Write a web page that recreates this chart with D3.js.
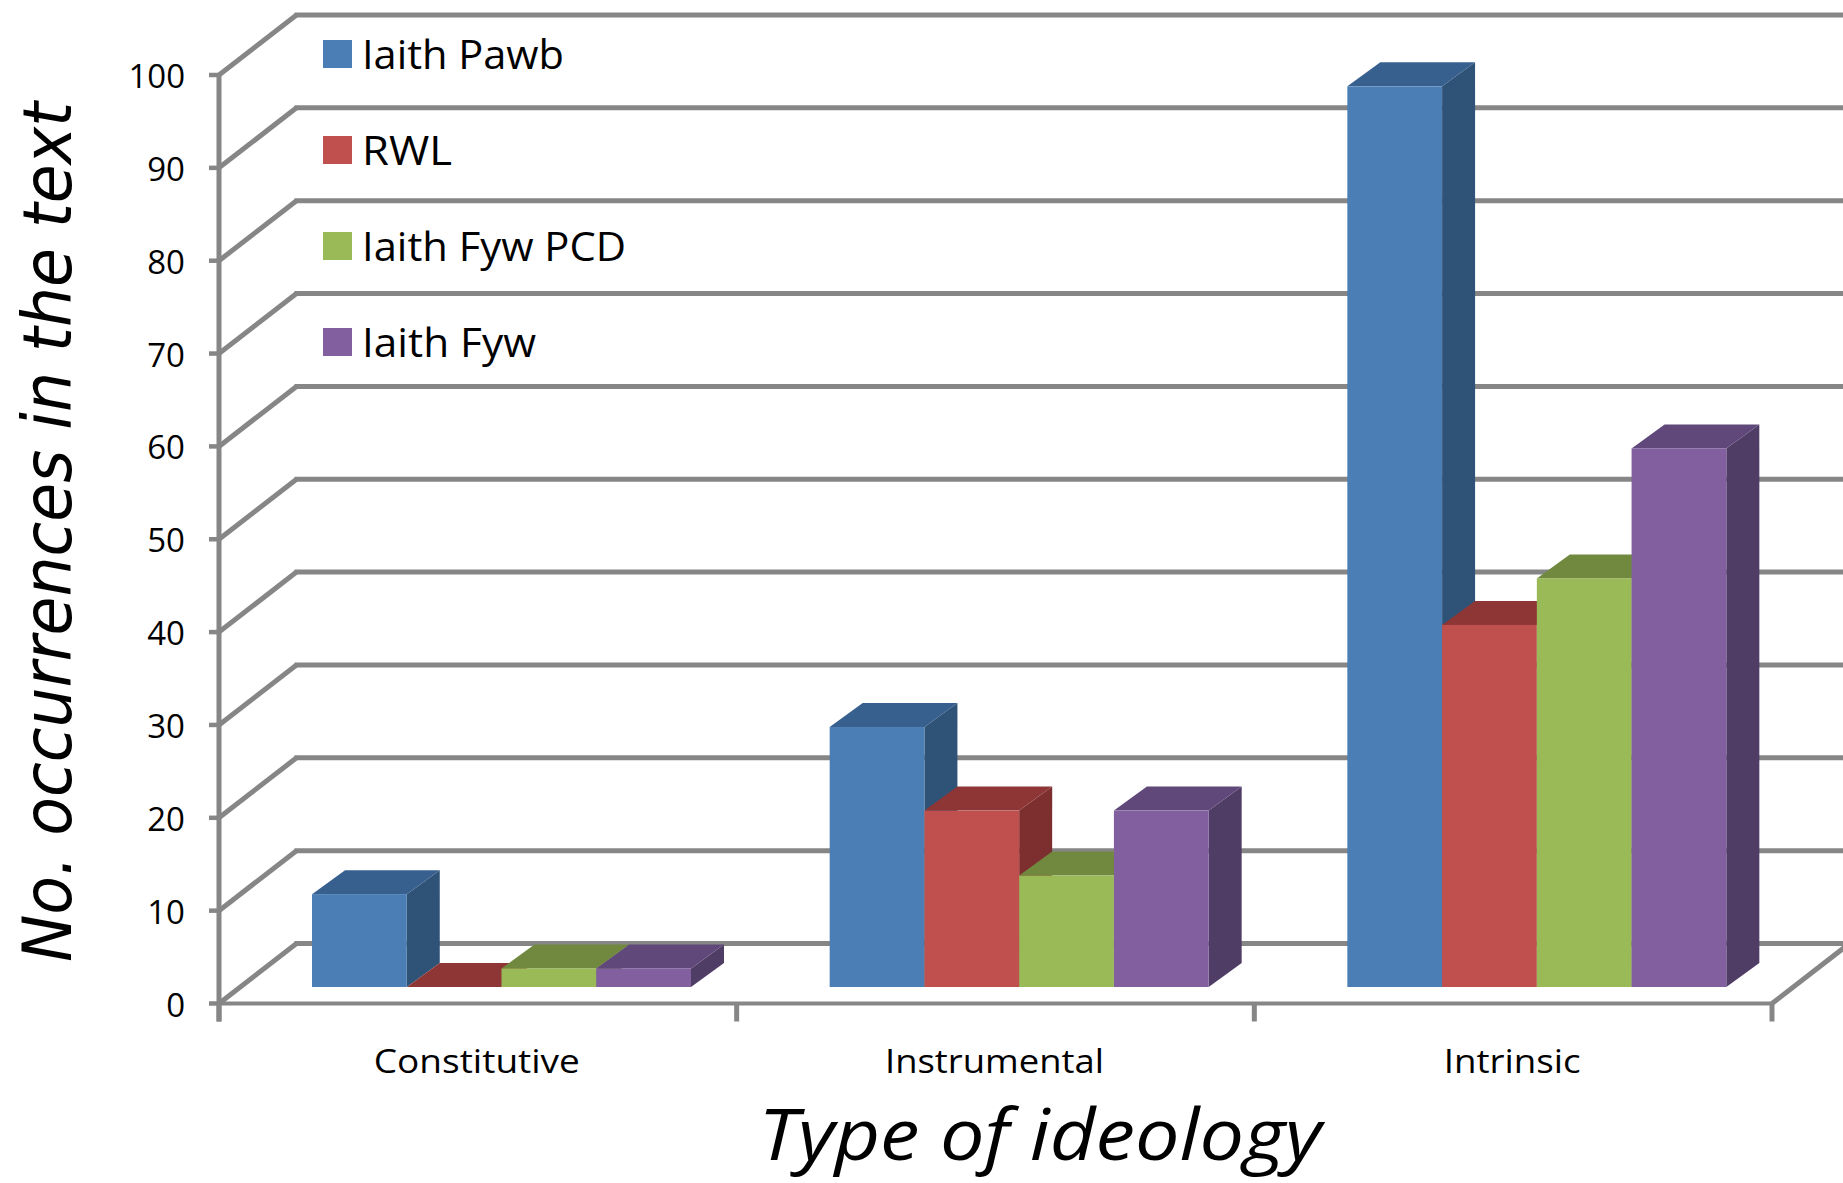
<!DOCTYPE html>
<html>
<head>
<meta charset="utf-8">
<script src="https://cdn.jsdelivr.net/npm/d3@7"></script>
<style>
  html, body { margin: 0; padding: 0; background: #fff; }
  svg { display: block; }
  text { fill: #000; }
</style>
</head>
<body>
<svg id="chart" width="1843" height="1183"></svg>
<script>
const categories = ["Constitutive", "Instrumental", "Intrinsic"];
const seriesNames = ["Iaith Pawb", "RWL", "Iaith Fyw PCD", "Iaith Fyw"];
const iaithPawb = [10, 28, 97];
const rwl = [0, 19, 39];
const iaithFywPcd = [2, 12, 44];
const iaithFyw = [2, 19, 58];
const yTicks = [0, 10, 20, 30, 40, 50, 60, 70, 80, 90, 100];
const seriesValues = [iaithPawb, rwl, iaithFywPcd, iaithFyw];

const frontColors = ["#4a7eb5", "#c0504d", "#9aba58", "#8260a0"];
const topColors = ["#38608f", "#8e3636", "#71893f", "#60487a"];
const sideColors = ["#2f5277", "#7d2f2f", "#5f7335", "#503d66"];
const gridColor = "#868686";

const svg = d3.select("#chart");

// Front plane of the box: value and category scales
const y = d3.scaleLinear().domain([0, 100]).range([1003.5, 75]);
const x = d3.scaleBand().domain(categories).range([219, 1772]);

// Oblique offsets of the back wall, of the bar front plane and of a bar's depth
const wall = { dx: 77.5, dy: -60 };
const barFront = { dy: -16.5 };
const barDepth = { dx: 33, dy: -24 };

const barBand = d3.scaleBand().domain(d3.range(seriesNames.length))
  .range([93, 93 + 379]);

// Back-wall gridlines, running off the right edge of the page
const grid = svg.append("g").attr("stroke", gridColor).attr("fill", "none");
grid.selectAll("line.back").data(yTicks).join("line")
  .attr("class", "back")
  .attr("x1", 219 + wall.dx - 2).attr("x2", 1843)
  .attr("y1", d => y(d) + wall.dy).attr("y2", d => y(d) + wall.dy)
  .attr("stroke-width", 5);

// Side-wall diagonals joining the axis to the back wall
grid.selectAll("line.side").data(yTicks).join("line")
  .attr("class", "side")
  .attr("x1", 219).attr("x2", 219 + wall.dx)
  .attr("y1", d => y(d)).attr("y2", d => y(d) + wall.dy)
  .attr("stroke-width", 5);

// Floor edge on the right
grid.append("line")
  .attr("x1", x.range()[1]).attr("x2", x.range()[1] + wall.dx)
  .attr("y1", y(0)).attr("y2", y(0) + wall.dy).attr("stroke-width", 5);

// Value axis and its ticks
grid.append("line")
  .attr("x1", 219).attr("x2", 219)
  .attr("y1", y(100) - 2).attr("y2", y(0) + 18).attr("stroke-width", 5);
grid.selectAll("line.ytick").data(yTicks).join("line")
  .attr("class", "ytick")
  .attr("x1", 209).attr("x2", 219)
  .attr("y1", d => y(d)).attr("y2", d => y(d))
  .attr("stroke-width", 4.5);

// Category axis and tick marks on the band boundaries
grid.append("line")
  .attr("x1", x.range()[0]).attr("x2", x.range()[1])
  .attr("y1", y(0)).attr("y2", y(0)).attr("stroke-width", 4);
const catEdges = categories.map(c => x(c)).concat(x.range()[1]);
grid.selectAll("line.xtick").data(catEdges).join("line")
  .attr("class", "xtick")
  .attr("x1", d => d).attr("x2", d => d)
  .attr("y1", y(0)).attr("y2", y(0) + 18)
  .attr("stroke-width", 5);

// Value tick labels
svg.append("g").selectAll("text").data(yTicks).join("text")
  .attr("x", 185).attr("y", d => y(d) + 13)
  .attr("text-anchor", "end")
  .style("font-family", "'Open Sans'").style("font-size", "33px")
  .text(d => d);

// Bars, painted left to right so each front face hides its neighbour's side
const bars = svg.append("g");
categories.forEach((cat, c) => {
  seriesValues.forEach((values, s) => {
    const x0 = x(cat) + barBand(s);
    const x1 = x0 + barBand.bandwidth();
    const base = y(0) + barFront.dy;
    const top = base - (y(0) - y(values[c]));
    const d = barDepth;
    const poly = pts => pts.map(p => p.join(",")).join(" ");
    const g = bars.append("g");
    g.append("polygon").attr("fill", sideColors[s])
      .attr("points", poly([[x1, top], [x1 + d.dx, top + d.dy], [x1 + d.dx, base + d.dy], [x1, base]]));
    g.append("polygon").attr("fill", topColors[s])
      .attr("points", poly([[x0, top], [x0 + d.dx, top + d.dy], [x1 + d.dx, top + d.dy], [x1, top]]));
    g.append("rect").attr("fill", frontColors[s])
      .attr("x", x0).attr("y", top)
      .attr("width", x1 - x0).attr("height", base - top);
  });
});

// Category labels
const catWidths = [206, 219, 137];
svg.append("g").selectAll("text").data(categories).join("text")
  .attr("x", d => x(d) + x.bandwidth() / 2 - 1)
  .attr("y", 1073)
  .attr("text-anchor", "middle")
  .attr("textLength", (d, i) => catWidths[i])
  .attr("lengthAdjust", "spacingAndGlyphs")
  .style("font-family", "'Open Sans'").style("font-size", "33px")
  .text(d => d);

// Legend in the upper-left of the plot
const legendY = d3.scalePoint().domain(seriesNames).range([54, 342]);
const legendWidths = [202, 90, 264, 174];
const legend = svg.append("g").selectAll("g").data(seriesNames).join("g")
  .attr("transform", d => `translate(323,${legendY(d)})`);
legend.append("rect")
  .attr("y", -14).attr("width", 29).attr("height", 28)
  .attr("fill", (d, i) => frontColors[i]);
legend.append("text")
  .attr("x", 39).attr("y", 15)
  .attr("textLength", (d, i) => legendWidths[i])
  .attr("lengthAdjust", "spacingAndGlyphs")
  .style("font-family", "'Open Sans'").style("font-size", "40px")
  .text(d => d);

// Axis titles
svg.append("text")
  .attr("transform", "translate(71,532) rotate(-90)")
  .attr("text-anchor", "middle")
  .attr("textLength", 860)
  .attr("lengthAdjust", "spacingAndGlyphs")
  .style("font-family", "'DejaVu Sans'").style("font-style", "italic").style("font-size", "68px")
  .text("No. occurrences in the text");
svg.append("text")
  .attr("x", 1040).attr("y", 1160)
  .attr("text-anchor", "middle")
  .attr("textLength", 563)
  .attr("lengthAdjust", "spacingAndGlyphs")
  .style("font-family", "'Open Sans'").style("font-style", "italic").style("font-size", "72px")
  .text("Type of ideology");
</script>
</body>
</html>
